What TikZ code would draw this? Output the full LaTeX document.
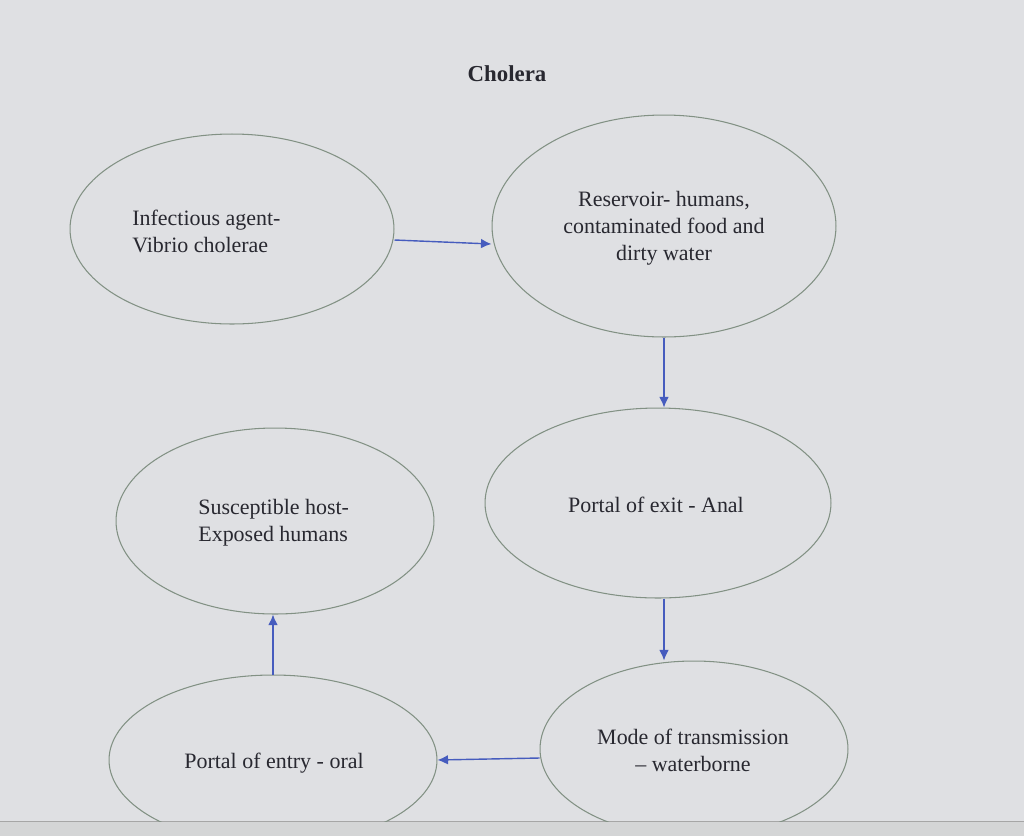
\documentclass[tikz,border=0pt]{standalone}
\usepackage{fontspec}
\setmainfont{Liberation Serif}
\usetikzlibrary{shapes.geometric,arrows.meta}
\definecolor{pagegray}{RGB}{223,224,227}
\definecolor{bargray}{RGB}{212,213,214}
\definecolor{rimgreen}{RGB}{130,145,132}
\definecolor{arrowblue}{RGB}{70,92,190}
\definecolor{inkgray}{RGB}{40,40,48}
\begin{document}
\begin{tikzpicture}[x=0.02cm,y=-0.02cm]
  \tikzstyle{every node}=[text=inkgray,inner sep=0pt,font=\fontsize{12.5}{15.3}\selectfont]
  \tikzstyle{blob}=[ellipse,draw=rimgreen,line width=0.6pt]
  \tikzstyle{link}=[draw=arrowblue,line width=0.8pt,-{Latex[length=6pt,width=5.5pt]}]
  \fill[pagegray] (0,0) rectangle (1024,836);
  \useasboundingbox (0,0) rectangle (1024,836);
  \fill[bargray] (0,821) rectangle (1024,836);
  \draw[gray!70] (0,821) -- (1024,821);
  \node[font=\bfseries\fontsize{13}{16}\selectfont] (title) at (507,74) {Cholera};
  % the six ellipses, bottom ones run off the page
  \begin{scope}
    \clip (0,0) rectangle (1024,821);
    \node[blob,minimum width=6.48cm,minimum height=3.8cm] (agent) at (232,229) {};
    \node[blob,minimum width=6.88cm,minimum height=4.44cm] (reservoir) at (664,226) {};
    \node[blob,minimum width=6.92cm,minimum height=3.8cm] (exit) at (658,503) {};
    \node[blob,minimum width=6.36cm,minimum height=3.72cm] (host) at (275,521) {};
    \node[blob,minimum width=6.16cm,minimum height=3.52cm] (mode) at (694,749) {};
    \node[blob,minimum width=6.56cm,minimum height=3.4cm] (entry) at (273,760) {};
  \end{scope}
  \node[align=left,anchor=west] (agenttxt) at (132,231) {Infectious agent-\\Vibrio cholerae};
  \node[align=center] (restxt) at (664,228) {Reservoir- humans,\\contaminated food and\\dirty water};
  \node (exittxt) at (656,505) {Portal of exit - Anal};
  \node[align=left,anchor=west] (hosttxt) at (198,523) {Susceptible host-\\Exposed humans};
  \node[align=center] (modetxt) at (693,750) {Mode of transmission\\– waterborne};
  \node (entrytxt) at (274,763) {Portal of entry - oral};
  % arrows
  \draw[link] ([yshift=-0.22cm]agent.east) -- ([yshift=-0.36cm]reservoir.west);
  \draw[link] (reservoir.south) -- (reservoir.south |- exit.north);
  \draw[link] (exit.south -| reservoir.south) -- (reservoir.south |- mode.north);
  \draw[link] ([yshift=-0.18cm]mode.west) -- (entry.east);
  \draw[link] (entry.north) -- (entry.north |- host.south);
\end{tikzpicture}
\end{document}
